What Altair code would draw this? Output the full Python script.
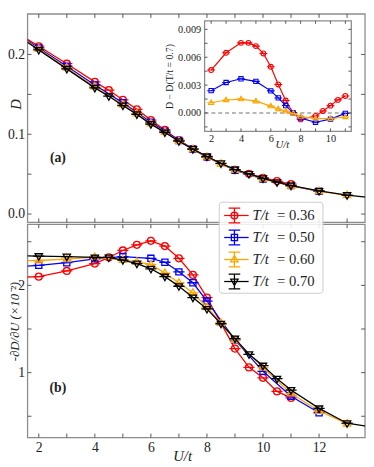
import altair as alt
import pandas as pd

# ---------------- data ----------------
labels = ["T/t = 0.36", "T/t = 0.50", "T/t = 0.60", "T/t = 0.70"]
values_txt = ["= 0.36", "= 0.50", "= 0.60", "= 0.70"]
colors = ["#ff0000", "#0000ff", "#ffa500", "#000000"]

U_red = [1, 2, 3, 4, 4.5, 5, 5.5, 6, 6.5, 7, 7.5, 8, 9, 9.5, 10, 10.5, 11]
D_red = [0.2320, 0.2103, 0.1884, 0.1656, 0.1552, 0.1432, 0.1313, 0.1177, 0.1054, 0.0926,
         0.0814, 0.0714, 0.0555, 0.0505, 0.0455, 0.0413, 0.0375]
dD_red = [2.09, 2.10, 2.165, 2.25, 2.32, 2.40, 2.465, 2.51, 2.45, 2.31, 2.12, 1.86,
          1.275, 1.06, 0.94, 0.785, 0.71]

U_blue = [1, 2, 3, 4, 5, 6, 6.5, 7, 7.5, 8, 9, 10, 11, 12]
D_blue = [0.2310, 0.2081, 0.1852, 0.1618, 0.1394, 0.1151, 0.1039, 0.0921, 0.0814, 0.0716,
          0.0548, 0.0440, 0.0357, 0.0285]
dD_blue = [2.21, 2.23, 2.26, 2.305, 2.33, 2.31, 2.265, 2.155, 2.03, 1.82, 1.375, 1.015, 0.73, 0.54]

U_orange = [1, 2, 3, 4, 5, 5.5, 6, 6.5, 7, 7.5, 8, 8.5, 9, 10, 11, 12, 13]
D_orange = [0.2300, 0.2068, 0.1833, 0.1596, 0.1373, 0.1259, 0.1134, 0.1027, 0.0915, 0.0813,
            0.0717, 0.0630, 0.0552, 0.0441, 0.0353, 0.0287, 0.0235]
dD_orange = [2.28, 2.285, 2.30, 2.325, 2.29, 2.27, 2.24, 2.14, 2.03, 1.915, 1.75, 1.57,
             1.375, 1.055, 0.76, 0.56, 0.415]

U_black = [1, 2, 3, 4, 4.5, 5, 5.5, 6, 6.5, 7, 7.5, 8, 8.5, 9, 9.5, 10, 10.5, 11, 12, 13, 14]
D_black = [0.2290, 0.2057, 0.1819, 0.1581, 0.1477, 0.1360, 0.1249, 0.1127, 0.1023, 0.0913,
           0.0814, 0.0721, 0.0635, 0.0558, 0.0503, 0.0447, 0.0399, 0.0357, 0.0290, 0.0237, 0.0198]
dD_black = [2.34, 2.335, 2.33, 2.32, 2.32, 2.29, 2.25, 2.19, 2.10, 1.99, 1.86, 1.73, 1.56,
            1.39, 1.21, 1.08, 0.93, 0.80, 0.59, 0.42, 0.37]

# inset: D - D(T/t = 0.7)
Ui_red = [2, 3, 4, 4.5, 5, 5.5, 6, 6.5, 7, 7.5, 8, 9, 9.5, 10, 10.5, 11]
diff_red = [0.00462, 0.00648, 0.00755, 0.00755, 0.00720, 0.00641, 0.00497, 0.00307, 0.00134,
            0.0, -0.00069, -0.00032, 0.00022, 0.00079, 0.00141, 0.00183]
Ui_blue = [2, 3, 4, 5, 6, 6.5, 7, 7.5, 8, 9, 10, 11]
diff_blue = [0.00240, 0.00328, 0.00368, 0.00340, 0.00238, 0.00162, 0.00080, 0.00001,
             -0.00055, -0.00100, -0.00066, -0.00004]
Ui_orange = [2, 3, 4, 5, 6, 6.5, 7, 7.5, 8, 9, 10, 11]
diff_orange = [0.00110, 0.00140, 0.00150, 0.00127, 0.00074, 0.00043, 0.00020, -0.00005,
               -0.00038, -0.00060, -0.00060, -0.00043]

x_ticks = [2, 3, 4, 5, 6, 7, 8, 9, 10, 11, 12, 13]
x_labels = [2, 4, 6, 8, 10, 12]
D_ticks = [0.0, 0.05, 0.1, 0.15, 0.2]
D_labels = [0.0, 0.1, 0.2]
dD_ticks = [0.5, 1.0, 1.5, 2.0, 2.5]
dD_labels = [1, 2]
xi_ticks = [2, 3, 4, 5, 6, 7, 8, 9, 10, 11]
xi_labels = [2, 4, 6, 8, 10]
yi_ticks = [-0.0015, 0.0, 0.0015, 0.003, 0.0045, 0.006, 0.0075, 0.009]
yi_labels = [0.0, 0.003, 0.006, 0.009]

# ---------------- styling / layout ----------------
FONT = "Liberation Serif"
FRAME = "#8c8c8c"
TICK = "#555555"
W, H = 345, 433
TOP_R = [213, 0]
BOT_R = [433, 215]
IN_X = [181, 331]
IN_Y = [120, 7]

path_circle = "M0.9,0A0.9,0.9,0,1,1,-0.9,0A0.9,0.9,0,1,1,0.9,0M-1.45,0L1.45,0"
path_square = "M-0.8,-0.8L0.8,-0.8L0.8,0.8L-0.8,0.8ZM-1.45,0L1.45,0"
path_tup = "M0,-1.05L0.95,0.62L-0.95,0.62ZM-1.45,0L1.45,0"
path_tdn = "M0,1.05L0.95,-0.62L-0.95,-0.62ZM-1.45,0L1.45,0"
shapes = [path_circle, path_square, path_tup, path_tdn]
leg_shapes = [
    "M0.9,0A0.9,0.9,0,1,1,-0.9,0A0.9,0.9,0,1,1,0.9,0",
    "M-0.8,-0.8L0.8,-0.8L0.8,0.8L-0.8,0.8Z",
    "M0,-1.05L0.95,0.62L-0.95,0.62Z",
    "M0,1.05L0.95,-0.62L-0.95,-0.62Z",
]
errbar = "M0,-1.9L0,1.9M-1.5,-1.9L1.5,-1.9M-1.5,1.9L1.5,1.9"

XS = alt.Scale(domain=[1.6, 13.64], range=[0, W], nice=False, zero=False)
YS_TOP = alt.Scale(domain=[-0.0104, 0.2507], range=TOP_R, nice=False, zero=False)
YS_BOT = alt.Scale(domain=[0.256, 2.70], range=BOT_R, nice=False, zero=False)
XS_IN = alt.Scale(domain=[1.56, 11.4], range=IN_X, nice=False, zero=False)
YS_IN = alt.Scale(domain=[-0.00198, 0.00992], range=IN_Y, nice=False, zero=False)
LEG_Y = alt.Scale(type="point", domain=labels, range=[206, 273.5], padding=0)

AX_TOP_Y = alt.Axis(orient="left", values=D_labels, format=".1f", ticks=False, domain=False,
                    grid=False, labelFont=FONT, labelFontSize=14, labelPadding=3,
                    labelColor="#222222", title="D", titleFont=FONT, titleFontSize=15,
                    titleFontStyle="italic", titleFontWeight="normal", titleX=-12,
                    titleY=92, titleBaseline="middle", titleColor="#222222")
AX_BOT_Y = alt.Axis(orient="left", values=dD_labels, format="d", ticks=False, domain=False,
                    grid=False, labelFont=FONT, labelFontSize=14, labelPadding=3,
                    labelColor="#222222", title="-∂D/∂U (×10⁻²)", titleFont=FONT,
                    titleFontSize=13, titleFontStyle="italic", titleFontWeight="normal",
                    titleX=-13, titleY=314, titleBaseline="middle", titleColor="#222222")
AX_BOT_X = alt.Axis(orient="bottom", values=x_labels, format="d", ticks=False, domain=False,
                    grid=False, labelFont=FONT, labelFontSize=14, labelPadding=3,
                    labelColor="#222222", title="U/t", titleFont=FONT, titleFontSize=15,
                    titleFontStyle="italic", titleFontWeight="normal", titleX=158, titleY=19,
                    titleBaseline="middle", titleColor="#222222")
AX_IN_X = alt.Axis(orient="bottom", offset=IN_Y[0] - H, values=xi_labels, format="d",
                   ticks=False, domain=False, grid=False, labelFont=FONT, labelFontSize=10.5,
                   labelPadding=2, labelColor="#222222", title="U/t", titleFont=FONT,
                   titleFontSize=11, titleFontStyle="italic", titleFontWeight="normal",
                   titleX=260, titleY=13, titleBaseline="middle", titleColor="#222222",
                   zindex=1)
AX_IN_Y = alt.Axis(orient="left", offset=-IN_X[0], values=yi_labels, format=".3f",
                   ticks=False, domain=False, grid=False, labelFont=FONT, labelFontSize=10.5,
                   labelPadding=4, labelColor="#222222", title="D − D(T/t = 0.7)",
                   titleFont=FONT, titleFontSize=10, titleFontWeight="normal",
                   titlePadding=3, titleColor="#222222", zindex=1)

one = pd.DataFrame({"k": [0]})


def series_df(u, v, name):
    return pd.DataFrame({"U": u, name: v})


main_series = [
    (U_red, D_red, dD_red),
    (U_blue, D_blue, dD_blue),
    (U_orange, D_orange, dD_orange),
    (U_black, D_black, dD_black),
]
inset_series = [(Ui_red, diff_red), (Ui_blue, diff_blue), (Ui_orange, diff_orange)]


def frame(y0, y1, x0=0, x1=W, fill_op=0.0):
    return alt.Chart(one).mark_rect(fill="white", fillOpacity=fill_op, stroke=FRAME,
                                    strokeWidth=1.3).encode(
        x=alt.value(x0), x2=alt.value(x1), y=alt.value(y0), y2=alt.value(y1))


def xtick_rules(field, ticks, scale, axis, ya, yb):
    return alt.Chart(pd.DataFrame({field: ticks})).mark_rule(color=TICK, strokeWidth=1).encode(
        x=alt.X(f"{field}:Q", scale=scale, axis=axis), y=alt.value(ya), y2=alt.value(yb))


def ytick_rules(field, ticks, scale, axis, xa, xb):
    return alt.Chart(pd.DataFrame({field: ticks})).mark_rule(color=TICK, strokeWidth=1).encode(
        y=alt.Y(f"{field}:Q", scale=scale, axis=axis), x=alt.value(xa), x2=alt.value(xb))


def panel(field, scale_y, axis_y, axis_x, yr, ticks_y, label_txt, label_y):
    layers = [frame(yr[1], yr[0])]
    for (u, d, dd), c, shp in zip(main_series, colors, shapes):
        vals = d if field == "D" else dd
        df = series_df(u, vals, field)
        enc = dict(x=alt.X("U:Q", scale=XS, axis=axis_x),
                   y=alt.Y(f"{field}:Q", scale=scale_y, axis=axis_y))
        layers.append(alt.Chart(df).mark_line(color=c, strokeWidth=1.3, clip=True).encode(**enc))
        layers.append(alt.Chart(df).mark_point(shape=shp, color=c, filled=False, size=62,
                                               strokeWidth=1.3, opacity=1, clip=True).encode(**enc))
    tk = 4
    layers += [
        xtick_rules("U", x_ticks, XS, axis_x, yr[0], yr[0] - tk),
        xtick_rules("U", x_ticks, XS, axis_x, yr[1], yr[1] + tk),
        ytick_rules(field, ticks_y, scale_y, axis_y, 0, tk),
        ytick_rules(field, ticks_y, scale_y, axis_y, W, W - tk),
        alt.Chart(one).mark_text(font=FONT, fontSize=14, fontWeight="bold", color="#222222",
                                 align="center", baseline="middle").encode(
            x=alt.value(31), y=alt.value(label_y), text=alt.value(label_txt)),
    ]
    return alt.layer(*layers)


top = panel("D", YS_TOP, AX_TOP_Y, None, TOP_R, D_ticks, "(a)", 147.5)
bottom = panel("dD", YS_BOT, AX_BOT_Y, AX_BOT_X, BOT_R, dD_ticks, "(b)", 382)

# inset
in_layers = [frame(IN_Y[1], IN_Y[0], IN_X[0], IN_X[1], fill_op=1.0)]
in_layers.append(
    alt.Chart(pd.DataFrame({"diff": [0.0]})).mark_rule(color="#707070", strokeWidth=1.1,
                                                       strokeDash=[4, 3]).encode(
        y=alt.Y("diff:Q", scale=YS_IN, axis=AX_IN_Y),
        x=alt.value(IN_X[0]), x2=alt.value(IN_X[1])))
for (u, d), c, shp in zip(inset_series, colors, shapes):
    df = pd.DataFrame({"Ui": u, "diff": d})
    enc = dict(x=alt.X("Ui:Q", scale=XS_IN, axis=AX_IN_X),
               y=alt.Y("diff:Q", scale=YS_IN, axis=AX_IN_Y))
    in_layers.append(alt.Chart(df).mark_line(color=c, strokeWidth=1.2).encode(**enc))
    in_layers.append(alt.Chart(df).mark_point(shape=shp, color=c, filled=False, size=30,
                                              strokeWidth=1.1, opacity=1).encode(**enc))
tki = 3
in_layers += [
    xtick_rules("Ui", xi_ticks, XS_IN, AX_IN_X, IN_Y[0], IN_Y[0] - tki),
    xtick_rules("Ui", xi_ticks, XS_IN, AX_IN_X, IN_Y[1], IN_Y[1] + tki),
    ytick_rules("diff", yi_ticks, YS_IN, AX_IN_Y, IN_X[0], IN_X[0] + tki),
    ytick_rules("diff", yi_ticks, YS_IN, AX_IN_Y, IN_X[1], IN_X[1] - tki),
]
inset = alt.layer(*in_layers)

# legend (hand-built, like matplotlib's errorbar handles)
leg_layers = [
    alt.Chart(one).mark_rect(fill="white", fillOpacity=0.85, stroke="#cccccc", strokeWidth=1,
                             cornerRadius=3).encode(
        x=alt.value(196), x2=alt.value(302), y=alt.value(192.5), y2=alt.value(285.5))
]
for lab, vt, c, shp in zip(labels, values_txt, colors, leg_shapes):
    df = pd.DataFrame({"label": [lab]})
    ly = alt.Y("label:N", scale=LEG_Y, axis=None)
    leg_layers += [
        alt.Chart(df).mark_rule(color=c, strokeWidth=1.3).encode(
            x=alt.value(201), x2=alt.value(226), y=ly),
        alt.Chart(df).mark_point(shape=errbar, color=c, filled=False, size=62,
                                 strokeWidth=1.3, opacity=1).encode(x=alt.value(211.5), y=ly),
        alt.Chart(df).mark_point(shape=shp, color=c, filled=False, size=62,
                                 strokeWidth=1.3, opacity=1).encode(x=alt.value(211.5), y=ly),
        alt.Chart(df).mark_text(font=FONT, fontSize=15, fontStyle="italic", align="left",
                                baseline="middle", color="#222222").encode(
            x=alt.value(230), y=ly, text=alt.value("T/t")),
        alt.Chart(df).mark_text(font=FONT, fontSize=15, align="left", baseline="middle",
                                color="#222222").encode(
            x=alt.value(255), y=ly, text=alt.value(vt)),
    ]
legend = alt.layer(*leg_layers)

chart = alt.layer(top, bottom, inset, legend).resolve_scale(
    x="independent", y="independent"
).properties(
    width=W, height=H,
    autosize=alt.AutoSizeParams(type="none"),
    padding={"left": 20, "top": 1, "right": 1, "bottom": 25},
).configure_view(stroke=None)

chart.save("out.html", embed_options={"renderer": "svg", "actions": False})
